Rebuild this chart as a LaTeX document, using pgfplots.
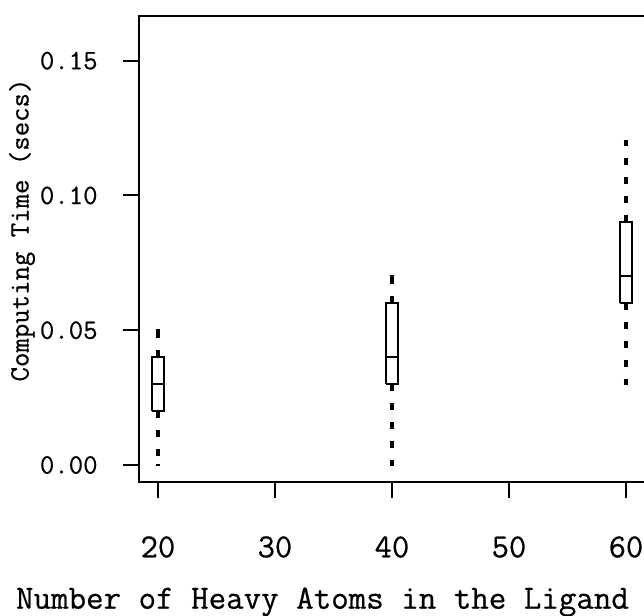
\documentclass[border=0pt]{standalone}
\usepackage{fontspec}
\setmonofont{Latin Modern Mono}[FakeBold=0.6]
\newcommand{\rf}{\ttfamily\bfseries}
\usepackage{pgfplots}
\pgfplotsset{compat=1.18}
\begin{document}
\begin{tikzpicture}
\begin{axis}[
  at={(0,0)}, anchor=south west,
  scale only axis,
  width=255.2pt, height=232.9pt,
  xmin=18.38, xmax=62,
  ymin=-0.0063, ymax=0.1665,
  axis line style={line width=1pt},
  xtick={20,30,40,50,60},
  ytick={0,0.05,0.10,0.15},
  yticklabels={0.00,0.05,0.10,0.15},
  xtick pos=bottom, ytick pos=left,
  tick align=outside,
  major tick length=8pt,
  every tick/.style={black, line width=1pt},
  /pgf/number format/assume math mode=true,
  xticklabel style={font=\rf\fontsize{16.8}{19}\selectfont, anchor=center, yshift=-24.5pt, inner sep=0pt},
  yticklabel style={font=\rf\fontsize{14}{16}\selectfont, anchor=east, xshift=-12.5pt, inner sep=0pt},
  xlabel={Number of Heavy Atoms in the Ligand},
  ylabel={Computing Time (secs)},
  xlabel style={font=\rf\fontsize{17}{19}\selectfont, at={(axis description cs:0.3595,0)}, anchor=center, yshift=-60pt, inner sep=0pt},
  ylabel style={font=\rf\fontsize{14}{16}\selectfont, at={(axis description cs:-0.2292,0.541)}, anchor=center, inner sep=0pt},
  clip=false,
]
% boxes (lower quartile to upper quartile)
\addplot[black, line width=1pt] coordinates {(19.525,0.02) (20.475,0.02) (20.475,0.04) (19.525,0.04) (19.525,0.02)};
\addplot[black, line width=1pt] coordinates {(39.525,0.03) (40.475,0.03) (40.475,0.06) (39.525,0.06) (39.525,0.03)};
\addplot[black, line width=1pt] coordinates {(59.525,0.06) (60.475,0.06) (60.475,0.09) (59.525,0.09) (59.525,0.06)};
% medians
\addplot[black, line width=1pt] coordinates {(19.525,0.03) (20.475,0.03)};
\addplot[black, line width=1pt] coordinates {(39.525,0.04) (40.475,0.04)};
\addplot[black, line width=1pt] coordinates {(59.525,0.07) (60.475,0.07)};
% whiskers
\addplot[black, line width=1.6pt, dash pattern=on 3.5pt off 6pt] coordinates {(20,0.02) (20,0.0)};
\addplot[black, line width=1.6pt, dash pattern=on 3.5pt off 6pt] coordinates {(20,0.04) (20,0.05)};
\addplot[black, line width=1.6pt, dash pattern=on 3.5pt off 6pt] coordinates {(40,0.03) (40,0.0)};
\addplot[black, line width=1.6pt, dash pattern=on 3.5pt off 6pt] coordinates {(40,0.06) (40,0.07)};
\addplot[black, line width=1.6pt, dash pattern=on 3.5pt off 6pt] coordinates {(60,0.06) (60,0.03)};
\addplot[black, line width=1.6pt, dash pattern=on 3.5pt off 6pt] coordinates {(60,0.09) (60,0.12)};
% whisker ends
\addplot[black, line width=1.2pt] coordinates {(19.8,0.0) (20.2,0.0)};
\addplot[black, line width=1.2pt] coordinates {(19.8,0.05) (20.2,0.05)};
\addplot[black, line width=1.2pt] coordinates {(39.8,0.0) (40.2,0.0)};
\addplot[black, line width=1.2pt] coordinates {(39.8,0.07) (40.2,0.07)};
\addplot[black, line width=1.2pt] coordinates {(59.8,0.03) (60.2,0.03)};
\addplot[black, line width=1.2pt] coordinates {(59.8,0.12) (60.2,0.12)};
\end{axis}
\pgfresetboundingbox
\useasboundingbox (-69.5pt,-67pt) rectangle (252.5pt,241pt);
\end{tikzpicture}
\end{document}
